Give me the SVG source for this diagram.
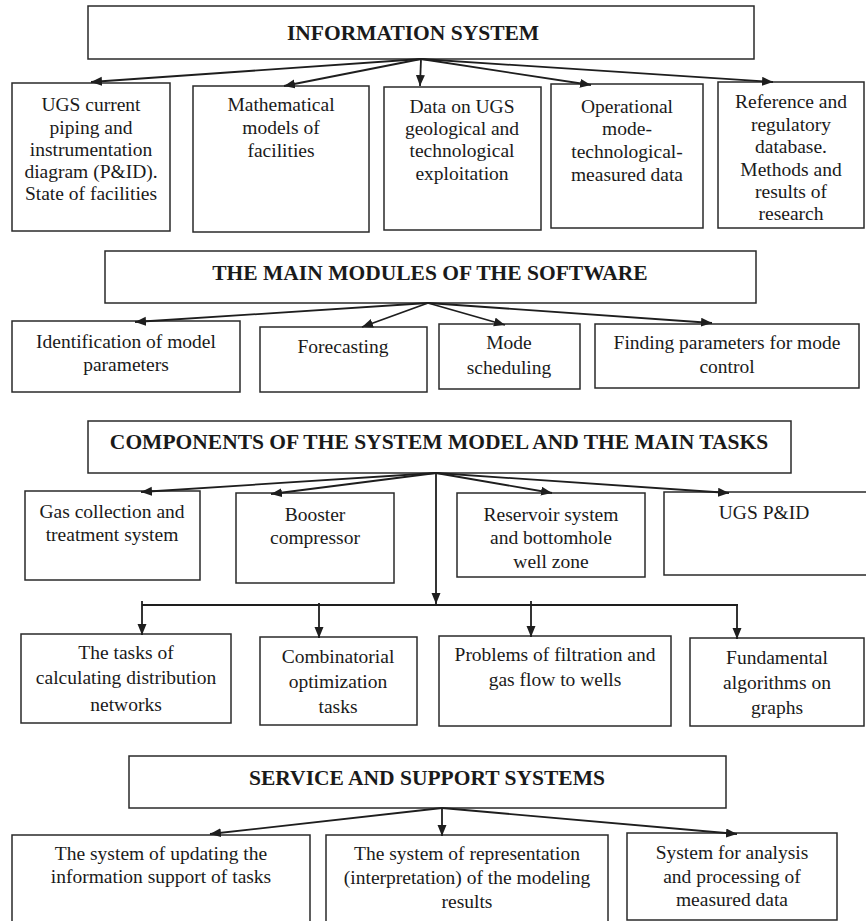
<svg xmlns="http://www.w3.org/2000/svg" width="866" height="921" viewBox="0 0 866 921">
<defs>
<style>
.box{fill:#fff;stroke:#2a2a2a;stroke-width:1.5}
.t{font-family:"Liberation Serif","Times New Roman",serif;font-size:19.5px;fill:#1a1a1a;text-anchor:middle}
.h{font-family:"Liberation Serif","Times New Roman",serif;font-size:21.5px;font-weight:bold;fill:#1a1a1a;text-anchor:middle}
.c{stroke:#1e1e1e;stroke-width:1.8;fill:none}
.ca{stroke:#1e1e1e;stroke-width:1.8;fill:none;marker-end:url(#ah)}
</style>
<marker id="ah" markerUnits="userSpaceOnUse" markerWidth="12" markerHeight="10" refX="11" refY="4.5" orient="auto">
<path d="M0,0 L11,4.5 L0,9 z" fill="#1e1e1e"/>
</marker>
</defs>

<g id="info-system">
<rect class="box" x="88" y="6" width="666" height="53"/>
<text class="h" x="413" y="40">INFORMATION SYSTEM</text>
</g>
<g id="ugs-pid">
<rect class="box" x="12" y="83" width="158" height="148"/>
<text class="t" x="91" y="111">UGS current</text>
<text class="t" x="91" y="134">piping and</text>
<text class="t" x="91" y="156">instrumentation</text>
<text class="t" x="91" y="178">diagram (P&amp;ID).</text>
<text class="t" x="91" y="200">State of facilities</text>
</g>
<g id="math-models">
<rect class="box" x="193" y="86" width="176" height="146"/>
<text class="t" x="281" y="111">Mathematical</text>
<text class="t" x="281" y="134">models of</text>
<text class="t" x="281" y="157">facilities</text>
</g>
<g id="data-ugs">
<rect class="box" x="384" y="87" width="157" height="143"/>
<text class="t" x="462" y="113">Data on UGS</text>
<text class="t" x="462" y="135">geological and</text>
<text class="t" x="462" y="157">technological</text>
<text class="t" x="462" y="180">exploitation</text>
</g>
<g id="operational">
<rect class="box" x="551" y="84" width="152" height="144"/>
<text class="t" x="627" y="113">Operational</text>
<text class="t" x="627" y="135">mode-</text>
<text class="t" x="627" y="158">technological-</text>
<text class="t" x="627" y="181">measured data</text>
</g>
<g id="reference">
<rect class="box" x="718" y="82" width="146" height="146"/>
<text class="t" x="791" y="108">Reference and</text>
<text class="t" x="791" y="131">regulatory</text>
<text class="t" x="791" y="153">database.</text>
<text class="t" x="791" y="176">Methods and</text>
<text class="t" x="791" y="198">results of</text>
<text class="t" x="791" y="220">research</text>
</g>

<g id="main-modules">
<rect class="box" x="105" y="251" width="651" height="52"/>
<text class="h" x="430" y="280">THE MAIN MODULES OF THE SOFTWARE</text>
</g>
<g id="identification">
<rect class="box" x="12" y="321" width="228" height="71"/>
<text class="t" x="126" y="348">Identification of model</text>
<text class="t" x="126" y="371">parameters</text>
</g>
<g id="forecasting">
<rect class="box" x="260" y="327" width="167" height="65"/>
<text class="t" x="343" y="353">Forecasting</text>
</g>
<g id="mode-scheduling">
<rect class="box" x="439" y="324" width="141" height="65"/>
<text class="t" x="509" y="349">Mode</text>
<text class="t" x="509" y="374">scheduling</text>
</g>
<g id="finding-params">
<rect class="box" x="595" y="324" width="264" height="64"/>
<text class="t" x="727" y="349">Finding parameters for mode</text>
<text class="t" x="727" y="373">control</text>
</g>

<g id="components">
<rect class="box" x="88" y="421" width="703" height="52"/>
<text class="h" x="439" y="449">COMPONENTS OF THE SYSTEM MODEL AND THE MAIN TASKS</text>
</g>
<g id="gas-collection">
<rect class="box" x="25" y="491" width="175" height="89"/>
<text class="t" x="112" y="518">Gas collection and</text>
<text class="t" x="112" y="541">treatment system</text>
</g>
<g id="booster">
<rect class="box" x="236" y="493" width="158" height="90"/>
<text class="t" x="315" y="521">Booster</text>
<text class="t" x="315" y="544">compressor</text>
</g>
<g id="reservoir">
<rect class="box" x="457" y="493" width="188" height="84"/>
<text class="t" x="551" y="521">Reservoir system</text>
<text class="t" x="551" y="544">and bottomhole</text>
<text class="t" x="551" y="568">well zone</text>
</g>
<g id="ugs-pid-2">
<rect class="box" x="664" y="492" width="210" height="83"/>
<text class="t" x="764" y="519">UGS P&amp;ID</text>
</g>

<g id="distribution-networks">
<rect class="box" x="21" y="634" width="210" height="89"/>
<text class="t" x="126" y="659">The tasks of</text>
<text class="t" x="126" y="684">calculating distribution</text>
<text class="t" x="126" y="711">networks</text>
</g>
<g id="combinatorial">
<rect class="box" x="260" y="637" width="157" height="88"/>
<text class="t" x="338" y="663">Combinatorial</text>
<text class="t" x="338" y="688">optimization</text>
<text class="t" x="338" y="713">tasks</text>
</g>
<g id="filtration">
<rect class="box" x="439" y="636" width="232" height="90"/>
<text class="t" x="555" y="661">Problems of filtration and</text>
<text class="t" x="555" y="686">gas flow to wells</text>
</g>
<g id="graph-algorithms">
<rect class="box" x="690" y="638" width="174" height="88"/>
<text class="t" x="777" y="664">Fundamental</text>
<text class="t" x="777" y="689">algorithms on</text>
<text class="t" x="777" y="714">graphs</text>
</g>

<g id="service-support">
<rect class="box" x="129" y="756" width="597" height="52"/>
<text class="h" x="427" y="785">SERVICE AND SUPPORT SYSTEMS</text>
</g>
<g id="updating-system">
<rect class="box" x="12" y="835" width="298" height="100"/>
<text class="t" x="161" y="860">The system of updating the</text>
<text class="t" x="161" y="883">information support of tasks</text>
</g>
<g id="representation-system">
<rect class="box" x="326" y="835" width="282" height="100"/>
<text class="t" x="467" y="860">The system of representation</text>
<text class="t" x="467" y="884">(interpretation) of the modeling</text>
<text class="t" x="467" y="908">results</text>
</g>
<g id="analysis-system">
<rect class="box" x="627" y="833" width="210" height="87"/>
<text class="t" x="732" y="859">System for analysis</text>
<text class="t" x="732" y="883">and processing of</text>
<text class="t" x="732" y="906">measured data</text>
</g>

<g id="connectors">
<line class="ca" x1="421" y1="59" x2="91" y2="82"/>
<line class="ca" x1="421" y1="59" x2="284" y2="86"/>
<line class="ca" x1="421" y1="59" x2="420" y2="86"/>
<line class="ca" x1="421" y1="59" x2="591" y2="85"/>
<line class="ca" x1="421" y1="59" x2="773" y2="82"/>

<line class="ca" x1="428" y1="303" x2="135" y2="322"/>
<line class="ca" x1="428" y1="303" x2="362" y2="327"/>
<line class="ca" x1="428" y1="303" x2="505" y2="325"/>
<line class="ca" x1="428" y1="303" x2="712" y2="323"/>

<line class="ca" x1="436" y1="473" x2="141" y2="492"/>
<line class="ca" x1="436" y1="473" x2="271" y2="494"/>
<line class="ca" x1="436" y1="473" x2="552" y2="493"/>
<line class="ca" x1="436" y1="473" x2="729" y2="493"/>
<line class="ca" x1="436" y1="473" x2="436" y2="604"/>

<line class="c" x1="142" y1="605" x2="738" y2="605"/>
<line class="ca" x1="142" y1="601" x2="142" y2="635"/>
<line class="ca" x1="319" y1="603" x2="319" y2="638"/>
<line class="ca" x1="531" y1="601" x2="531" y2="637"/>
<line class="ca" x1="737" y1="605" x2="737" y2="639"/>

<line class="ca" x1="442" y1="808" x2="210" y2="834"/>
<line class="ca" x1="442" y1="808" x2="442" y2="836"/>
<line class="ca" x1="442" y1="808" x2="737" y2="834"/>
</g>
</svg>
